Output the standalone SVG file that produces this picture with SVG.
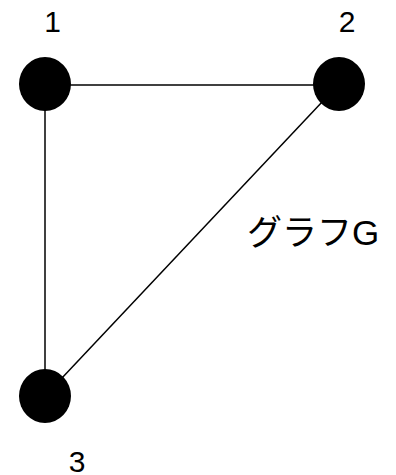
<svg xmlns="http://www.w3.org/2000/svg" width="396" height="475" viewBox="0 0 396 475">
<style>
.edge{stroke:#000;stroke-width:1.5;fill:none}
.node{fill:#000}
.lbl{font-family:"Liberation Sans","Noto Sans CJK JP",sans-serif;font-size:30px;fill:#000;text-anchor:middle}
.title{font-family:"Liberation Sans","Noto Sans CJK JP",sans-serif;font-size:35px;fill:#000}
</style>
<rect width="396" height="475" fill="#fff"/>
<g id="connectors">
<line class="edge" x1="45" y1="85" x2="339" y2="85"/>
<line class="edge" x1="45" y1="84" x2="45" y2="396"/>
<line class="edge" x1="339" y1="84" x2="45" y2="396"/>
</g>
<g id="node1">
<ellipse class="node" cx="45" cy="84" rx="26" ry="27"/>
<text class="lbl" x="52.5" y="32">1</text>
</g>
<g id="node2">
<ellipse class="node" cx="339" cy="84" rx="26" ry="27"/>
<text class="lbl" x="347" y="32">2</text>
</g>
<g id="node3">
<ellipse class="node" cx="45" cy="396" rx="26" ry="27"/>
<text class="lbl" x="77" y="472">3</text>
</g>
<g id="graph-label">
<text class="title" x="247" y="245">グラフG</text>
</g>
</svg>
